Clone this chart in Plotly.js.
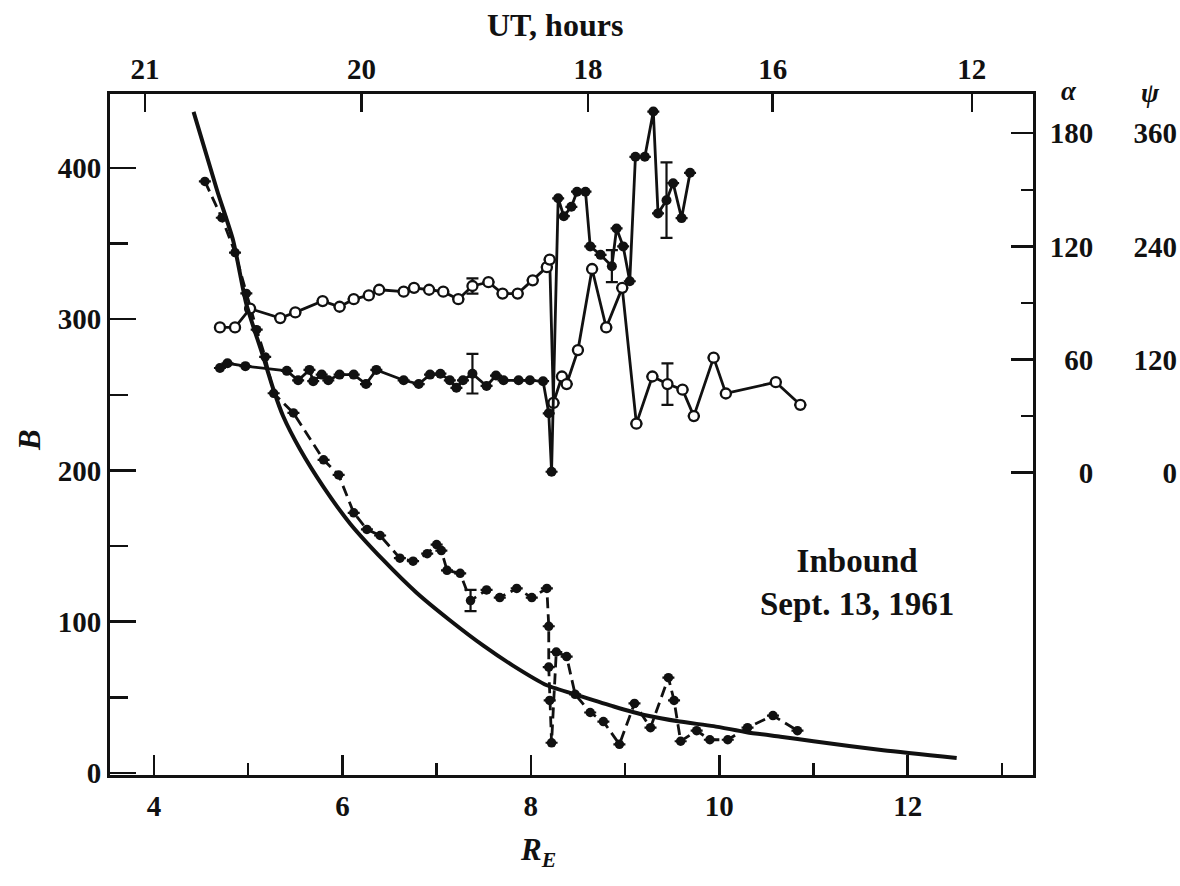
<!DOCTYPE html>
<html><head><meta charset="utf-8">
<script src="https://cdn.plot.ly/plotly-3.0.1.min.js"></script>
<style>html,body{margin:0;padding:0;background:#fff}#chart{width:1180px;height:886px}</style>
</head><body><div id="chart"></div><script>
// ---- model curve (solid line), B vs R_E ----
const curveR = [4.42,4.67,4.84,4.98,5.16,5.27,5.37,5.55,5.80,6.08,6.43,6.79,7.14,7.50,7.81,8.17,8.52,8.88,9.23,9.58,9.94,10.29,10.65,11.00,11.74,12.52];
const curveB = [437,385,352,310,275,253,236,214,189,165,141,119,101,84,71,58,51,44,38,34,31,27,24,21,15,10];

// ---- measured B (dashed line, filled dots) ----
const bR   = [4.54,4.72,4.86,4.98,5.09,5.18,5.27,5.48,5.80,5.96,6.12,6.26,6.40,6.61,6.75,6.90,7.00,7.05,7.11,7.25,7.36,7.53,7.67,7.85,8.01,8.17,8.19,8.19,8.20,8.22,8.27,8.38,8.47,8.63,8.77,8.94,9.10,9.27,9.46,9.52,9.59,9.76,9.90,10.09,10.30,10.57,10.83];
const bVal = [391,367,344,317,293,275,251,238,207,197,172,161,157,142,140,145,151,147,134,132,114,121,116,122,116,122,97,70,48,20,80,77,52,40,34,19,46,30,63,48,21,28,22,22,30,38,28];
const bErr = [null,null,null,null,null,null,null,null,null,null,null,null,null,null,null,null,null,null,null,null,7,null,null,null,null,null,null,null,null,null,null,null,null,null,null,null,null,null,null,null,null,null,null,null,null,null,null];

// ---- alpha (open circles), degrees ----
const aR   = [4.70,4.86,5.02,5.34,5.50,5.79,5.97,6.12,6.28,6.39,6.65,6.76,6.92,7.07,7.23,7.38,7.55,7.70,7.86,8.02,8.17,8.20,8.24,8.33,8.38,8.50,8.65,8.80,8.97,9.12,9.29,9.45,9.61,9.73,9.94,10.07,10.60,10.86];
const aVal = [77,77,87,82,85,91,88,92,94,97,96,98,97,96,92,99,101,95,95,102,109,113,37,51,47,65,108,77,98,26,51,47,44,30,61,42,48,36];
const aErr = [null,null,null,null,null,null,null,null,null,null,null,null,null,null,null,4,null,null,null,null,null,null,null,null,null,null,null,null,null,null,null,11,null,null,null,null,null,null];

// ---- psi (filled dots, solid line), degrees ----
const pR   = [4.70,4.78,4.97,5.41,5.53,5.65,5.69,5.78,5.85,5.97,6.12,6.25,6.36,6.65,6.81,6.93,7.04,7.14,7.21,7.28,7.38,7.53,7.63,7.71,7.87,7.99,8.13,8.19,8.22,8.29,8.35,8.43,8.49,8.58,8.63,8.74,8.86,8.91,8.98,9.05,9.11,9.21,9.30,9.35,9.44,9.51,9.60,9.69];
const pVal = [111,116,113,108,98,109,97,104,98,104,104,94,109,98,94,104,105,98,90,98,105,92,103,98,98,98,97,63,1,291,272,282,298,298,240,231,219,259,240,203,335,335,383,275,289,307,270,318];
const pErr = [null,null,null,null,null,null,null,null,null,null,null,null,null,null,null,null,null,null,null,null,21,null,null,null,null,null,null,null,null,null,null,null,null,null,null,null,17,null,null,null,null,null,null,null,40,null,null,null];

// ---- axis ticks ----
const xTicks = [4,6,8,10,12];
const xMinor = [5,7,9,11,13];
const bTicks = [0,100,200,300,400];
const bMinor = [50,150,250,350];
const utTickR = [3.904,6.202,8.607,10.567,12.68];
const utLabels = ['21','20','18','16','12'];
const alphaTicks = [0,60,120,180];
const alphaLabels = ['\u2007\u20070','\u200760','120','180'];
const alphaMinor = [30,90,150];
const psiTicks = [0,120,240,360];

const FONT = 'Liberation Serif, Times New Roman, serif';
const W = 1180, H = 886, ML = 110, MT = 94, MB = 111;
const PW = W - ML;
const px = v => (v - ML) / PW;
const xDomEnd = px(1033);
const K = '#111';
const tf = {family: FONT, size: 29, color: K, weight: 'bold'};

const errStyle = arr => ({type:'data', array: arr, visible:true, color:K, thickness:2.2, width:6});

const traces = [
  {x: curveR, y: curveB, mode:'lines', line:{color:K, width:4, shape:'spline', smoothing:0.6}, xaxis:'x2', yaxis:'y', hoverinfo:'skip'},
  {x: bR, y: bVal, mode:'lines+markers', line:{color:K, width:2.8, dash:'11px,6px'},
   marker:{color:K, size:9.5}, error_y: errStyle(bErr), xaxis:'x', yaxis:'y'},
  {x: aR, y: aVal, mode:'lines+markers', line:{color:K, width:2.8},
   marker:{color:'#fff', size:10, line:{color:K, width:2.3}}, error_y: errStyle(aErr), xaxis:'x', yaxis:'y2'},
  {x: pR, y: pVal, mode:'lines+markers', line:{color:K, width:2.8},
   marker:{color:K, size:10}, error_y: errStyle(pErr), xaxis:'x', yaxis:'y3'}
];

const axLine = {showline:true, linecolor:K, linewidth:3, showgrid:false, zeroline:false};

const layout = {
  width: W, height: H,
  margin: {l: ML, r: 0, t: MT, b: MB, pad: 0},
  paper_bgcolor:'#fff', plot_bgcolor:'#fff',
  showlegend:false,
  font: {family: FONT, color: K},
  xaxis: Object.assign({}, axLine, {
    domain:[0, xDomEnd], range:[3.533, 13.33], anchor:'y',
    tickmode:'array', tickvals:xTicks, ticks:'inside', ticklen:20, tickwidth:2.5, tickcolor:K,
    minor:{tickmode:'array', tickvals:xMinor, ticks:'inside', ticklen:12, tickwidth:2.5, tickcolor:K},
    tickfont: tf, ticklabelstandoff: 3
  }),
  xaxis2: Object.assign({}, axLine, {
    domain:[0, xDomEnd], range:[3.533, 13.33], overlaying:'x', side:'top', anchor:'y',
    tickmode:'array', tickvals:utTickR, ticktext:utLabels, ticks:'inside', ticklen:18, tickwidth:2.5, tickcolor:K,
    tickfont: tf, ticklabelstandoff: 0
  }),
  yaxis: Object.assign({}, axLine, {
    range:[-1.3, 448.8], anchor:'x',
    tickmode:'array', tickvals:bTicks, ticks:'inside', ticklen:26, tickwidth:2.5, tickcolor:K,
    minor:{tickmode:'array', tickvals:bMinor, ticks:'inside', ticklen:18, tickwidth:2.5, tickcolor:K},
    tickfont: tf, ticklabelstandoff: 0
  }),
  yaxis2: Object.assign({}, axLine, {
    range:[-160.3, 200.8], overlaying:'y', side:'right', anchor:'x',
    tickmode:'array', tickvals:alphaTicks, ticktext:alphaLabels, ticks:'inside', ticklen:22, tickwidth:2.5, tickcolor:K,
    minor:{tickmode:'array', tickvals:alphaMinor, ticks:'inside', ticklen:12, tickwidth:2.5, tickcolor:K},
    tickfont: tf, ticklabelstandoff: 8
  }),
  yaxis3: {
    range:[-320.6, 401.6], overlaying:'y', side:'left', anchor:'free', position: px(1177),
    tickmode:'array', tickvals:psiTicks, ticks:'', showline:false, showgrid:false, zeroline:false,
    tickfont: tf
  },
  annotations: [
    {text:'UT, hours', xref:'paper', yref:'paper', x: px(555), y:(775-25)/681, showarrow:false, xanchor:'center', yanchor:'middle', font:{family:FONT, size:32, color:K, weight:'bold'}},
    {text:'<i>R</i><sub><i>E</i></sub>', xref:'paper', yref:'paper', x: px(538), y:(775-852)/681, showarrow:false, xanchor:'center', yanchor:'middle', font:{family:FONT, size:31, color:K, weight:'bold'}},
    {text:'<i>B</i>', xref:'paper', yref:'paper', x: px(30), y:(775-440)/681, textangle:-90, showarrow:false, xanchor:'center', yanchor:'middle', font:{family:FONT, size:31, color:K, weight:'bold'}},
    {text:'<i>α</i>', xref:'paper', yref:'paper', x: px(1069), y:(775-91)/681, showarrow:false, xanchor:'center', yanchor:'middle', font:{family:FONT, size:27, color:K, weight:'bold'}},
    {text:'<i>ψ</i>', xref:'paper', yref:'paper', x: px(1150), y:(775-93)/681, showarrow:false, xanchor:'center', yanchor:'middle', font:{family:FONT, size:27, color:K, weight:'bold'}},
    {text:'Inbound<br>Sept. 13, 1961', xref:'x', yref:'y', x: 11.46, y: 126, showarrow:false, xanchor:'center', yanchor:'middle', align:'center', font:{family:FONT, size:33, color:K, weight:'bold'}}
  ]
};

Plotly.newPlot('chart', traces, layout, {staticPlot:true, displayModeBar:false});
</script></body></html>
